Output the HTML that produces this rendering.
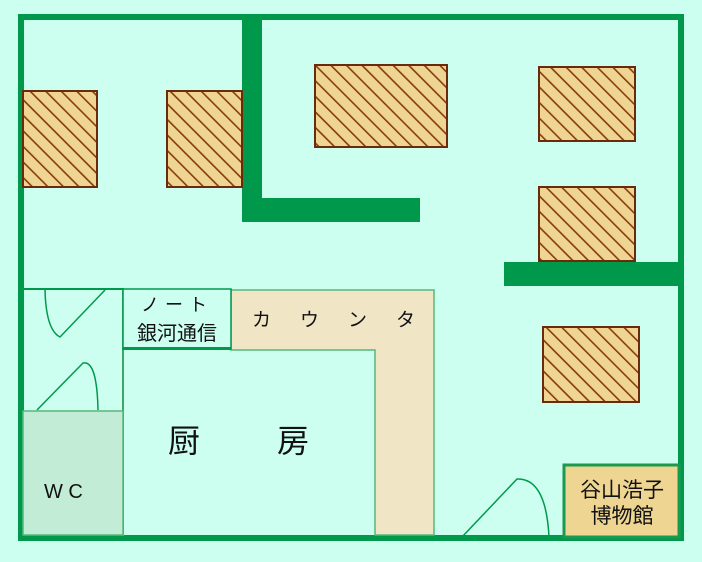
<!DOCTYPE html>
<html><head><meta charset="utf-8"><style>
body{margin:0;background:#ccfff0;}
svg{display:block}
text{font-family:"Liberation Sans","Noto Sans CJK JP",sans-serif;fill:#111}
</style></head><body>
<svg width="702" height="562" viewBox="0 0 702 562" xmlns="http://www.w3.org/2000/svg">
<defs>
<pattern id="h" patternUnits="userSpaceOnUse" width="11" height="11" patternTransform="rotate(-45)">
<rect width="11" height="11" fill="#eed591"/>
<rect x="0" y="0" width="1.6" height="11" fill="#8a3a10"/>
</pattern>
</defs>
<rect width="702" height="562" fill="#ccfff0"/>
<rect x="18" y="14" width="666" height="6" fill="#00994c"/>
<rect x="18" y="14" width="6" height="527" fill="#00994c"/>
<rect x="678" y="14" width="6" height="527" fill="#00994c"/>
<rect x="18" y="535" width="666" height="6" fill="#00994c"/>
<rect x="242" y="20" width="20" height="202" fill="#00994c"/>
<rect x="242" y="198" width="178" height="24" fill="#00994c"/>
<rect x="504" y="262" width="176" height="24" fill="#00994c"/>
<g stroke="#6b2a0c" stroke-width="2" fill="url(#h)">
<rect x="23" y="91" width="74" height="96"/>
<rect x="167" y="91" width="75" height="96"/>
<rect x="315" y="65" width="132" height="82"/>
<rect x="539" y="67" width="96" height="74"/>
<rect x="539" y="187" width="96" height="74"/>
<rect x="543" y="327" width="96" height="75"/>
</g>
<rect x="24" y="288" width="100" height="2" fill="#00994c"/>
<rect x="122" y="290" width="2" height="246" fill="#3da66a"/>
<polygon points="231,290 434,290 434,535 375,535 375,350 231,350" fill="#f0e6c6" stroke="#55b87a" stroke-width="1.5"/>
<rect x="123" y="289" width="108" height="60" fill="#ccfff0" stroke="#00994c" stroke-width="1.5"/>
<rect x="123" y="347" width="108" height="3" fill="#00994c"/>
<rect x="23" y="411" width="100" height="124" fill="#c2ecd6" stroke="#55b87a" stroke-width="1.5"/>
<rect x="564" y="465" width="115" height="72" fill="#eed591" stroke="#1a9a50" stroke-width="3"/>
<g fill="none" stroke="#00994c" stroke-width="1.5">
<path d="M45,290 Q46,330 60,337 L105,290"/>
<path d="M37,410 L83,363 Q97,360 98,410"/>
<path d="M462,537 L517,479 Q546,478 549,537"/>
</g>
<text x="177" y="311" font-size="18" text-anchor="middle" letter-spacing="6">ノート</text>
<text x="177" y="340" font-size="20" text-anchor="middle">銀河通信</text>
<text x="252" y="326" font-size="19">カ</text>
<text x="300" y="326" font-size="19">ウ</text>
<text x="348" y="326" font-size="19">ン</text>
<text x="396" y="326" font-size="19">タ</text>
<text x="168" y="452" font-size="32">厨</text>
<text x="277" y="452" font-size="32">房</text>
<text x="44" y="498" font-size="20">W C</text>
<text x="622" y="497" font-size="21" text-anchor="middle">谷山浩子</text>
<text x="622" y="523" font-size="21" text-anchor="middle">博物館</text>
</svg>
</body></html>
